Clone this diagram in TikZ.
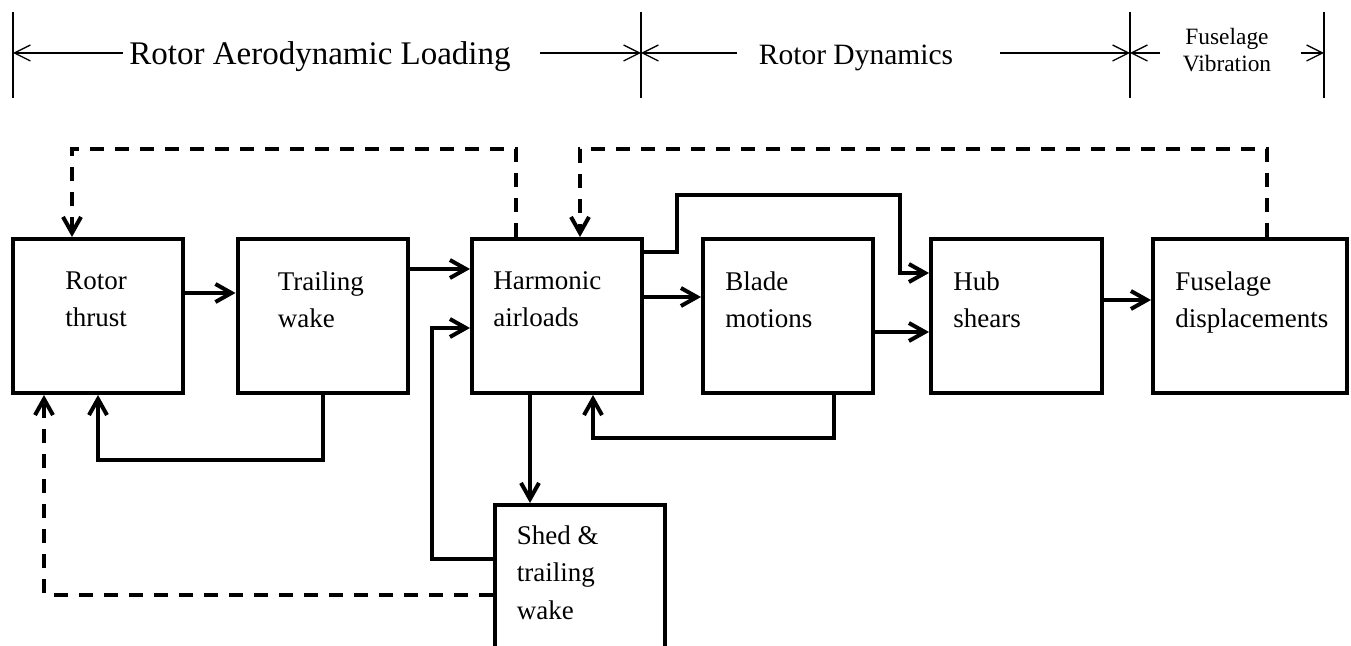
\documentclass[tikz,border=0pt]{standalone}
\usepackage{fontspec}
\setmainfont{Liberation Serif}
\usetikzlibrary{arrows.meta, positioning}

\begin{document}
\begin{tikzpicture}[
  x=0.5pt, y=-0.5pt,
  blk/.style={draw, line width=2pt, minimum width=85pt, minimum height=77pt, inner sep=0pt},
  lbl/.style={anchor=north west, align=left, inner sep=0pt, font=\fontsize{13.5}{18.75}\selectfont},
  hdr/.style={inner sep=0pt, font=\fontsize{16.5}{20}\selectfont},
  flow/.style={-{Straight Barb[length=8pt, width=9pt]}, line width=2pt},
  fb/.style={flow, dash pattern=on 7pt off 5.5pt},
  dim/.style={-{Straight Barb[length=8pt, width=8pt]}, line width=0.65pt},
  tick/.style={line width=0.65pt},
]
\useasboundingbox (0,0) rectangle (1351,646);

%% Section ticks along the top
\coordinate (t0) at (13,53);
\coordinate (t1) at (641,53);
\coordinate (t2) at (1130,53);
\coordinate (t3) at (1324,53);
\foreach \t in {t0,t1,t2,t3}
  \draw[tick] (\t |- 0,12) -- (\t |- 0,98);

\node[hdr, anchor=base] (aero) at (320,65) {Rotor Aerodynamic Loading};
\node[hdr, anchor=base, font=\fontsize{14.75}{18}\selectfont] (dyn) at (856,65) {Rotor Dynamics};
\node[hdr, align=center, font=\fontsize{11.7}{13.2}\selectfont] (vib) at (1227,50) {Fuselage\\Vibration};

\draw[dim] ([xshift=-3pt]aero.west |- t0)  -- (t0);
\draw[dim] ([xshift=14.5pt]aero.east |- t1) -- (t1);
\draw[dim] ([xshift=-11pt]dyn.west |- t1)  -- (t1);
\draw[dim] ([xshift=23.5pt]dyn.east |- t2) -- (t2);
\draw[dim] ([xshift=-11pt]vib.west |- t2)  -- (t2);
\draw[dim] ([xshift=14.5pt]vib.east |- t3) -- (t3);

%% Blocks
\node[blk] (thrust) at (98,316)    {};
\node[blk] (trail)  at (322.5,316) {};
\node[blk] (harm)   at (557,316)   {};
\node[blk] (blade)  at (788,316)   {};
\node[blk, minimum width=85.5pt] (hub) at (1016.5,316) {};
\node[blk, minimum width=97pt]   (fus) at (1250,316)   {};
\node[blk] (shed)   at (579.5,582) {};

%% Block texts
\node[lbl] (thrust-t) at ([shift={(27pt,-17pt)}]thrust.north west) {Rotor\\thrust};
\node[lbl] (trail-t)  at ([shift={(21pt,-17pt)}]trail.north west)  {Trailing\\wake};
\node[lbl] (harm-t)   at ([shift={(11.5pt,-17pt)}]harm.north west) {Harmonic\\airloads};
\node[lbl] (blade-t)  at ([shift={(12pt,-17pt)}]blade.north west)  {Blade\\motions};
\node[lbl] (hub-t)    at ([shift={(12pt,-17pt)}]hub.north west)    {Hub\\shears};
\node[lbl] (fus-t)    at ([shift={(12pt,-17pt)}]fus.north west)    {Fuselage\\displacements};
\node[lbl] (shed-t)   at ([shift={(12pt,-11pt)}]shed.north west)   {Shed \&\\trailing\\wake};

%% Forward path
\draw[flow] (thrust.east |- 0,293) -- (trail.west |- 0,293);
\draw[flow] (trail.east |- 0,269)  -- (harm.west |- 0,269);
\draw[flow] (harm.east |- 0,297)   -- (blade.west |- 0,297);
\draw[flow] (blade.east |- 0,332)  -- (hub.west |- 0,332);
\draw[flow] (hub.east |- 0,300)    -- (fus.west |- 0,300);
\draw[flow] (harm.east |- 0,252) -| (677,195) -| (900,273) -- (hub.west |- 0,273);
\draw[flow] (harm.south -| 530,0) -- (shed.north -| 530,0);

%% Solid feedback loops
\draw[flow] (trail.south) -- (trail.south |- 0,460) -| (thrust.south);
\draw[flow] (blade.south -| 834,0) -- (834,438) -| (harm.south -| 593,0);
\draw[flow] (shed.west |- 0,559) -| (432,328) -- (harm.west |- 0,328);

%% Dashed feedback loops
\draw[fb] (harm.north -| 516,0) |- (72,149) -- (thrust.north -| 72,0);
\draw[fb] (fus.north -| 1267,0) |- (580,149) -- (harm.north -| 580,0);
\draw[fb] (shed.west |- 0,595) -| (thrust.south -| 44,0);

\end{tikzpicture}
\end{document}
